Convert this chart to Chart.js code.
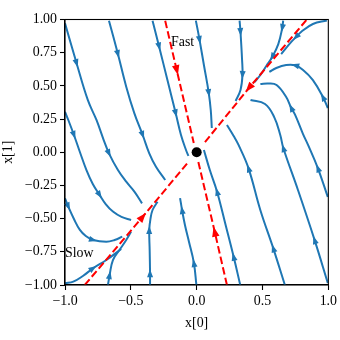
<!DOCTYPE html>
<html lang="en">
<head>
<meta charset="UTF-8">
<title>Phase portrait</title>
<script src="https://cdn.jsdelivr.net/npm/chart.js@4.4.1/dist/chart.umd.min.js"></script>
<style>
  html, body { margin: 0; padding: 0; background: #fff; }
</style>
</head>
<body>
<canvas id="phase" width="340" height="340"></canvas>
<script>
// streamlines, each listed in flow direction
const lineA = [[-1, 0.971], [-0.912, 0.670], [-0.827, 0.394], [-0.761, 0.243], [-0.706, 0.092], [-0.666, -0.008], [-0.598, -0.134], [-0.535, -0.222], [-0.473, -0.297], [-0.415, -0.385]];
const lineB = [[-0.666, 0.991], [-0.598, 0.740], [-0.535, 0.494], [-0.473, 0.293], [-0.410, 0.130], [-0.360, -0.008], [-0.309, -0.109], [-0.239, -0.209]];
const lineC = [[-0.335, 0.991], [-0.285, 0.795], [-0.222, 0.544], [-0.159, 0.293], [-0.119, 0.130], [-0.081, 0.017], [-0.062, -0.028]];
const lineD = [[-1, 0.305], [-0.975, 0.243], [-0.932, 0.130], [-0.887, 0.002], [-0.837, -0.134], [-0.789, -0.239], [-0.737, -0.322], [-0.691, -0.390], [-0.636, -0.447], [-0.571, -0.487], [-0.498, -0.510]];
const lineE = [[-1, -0.347], [-0.975, -0.410], [-0.932, -0.503], [-0.887, -0.585], [-0.842, -0.631], [-0.787, -0.661], [-0.686, -0.674], [-0.623, -0.661], [-0.565, -0.636]];
const lineF = [[-1, -0.987], [-0.937, -0.975], [-0.864, -0.932], [-0.787, -0.874], [-0.686, -0.812], [-0.573, -0.729]];
const lineG = [[-0.674, -1], [-0.661, -0.925], [-0.636, -0.812], [-0.586, -0.736], [-0.535, -0.661], [-0.498, -0.599]];
const lineH = [[-0.354, -1], [-0.354, -0.912], [-0.357, -0.736], [-0.360, -0.586], [-0.352, -0.510], [-0.335, -0.435], [-0.297, -0.373]];
const lineI = [[-0.002, -1], [-0.021, -0.834], [-0.058, -0.676], [-0.089, -0.548], [-0.111, -0.435], [-0.126, -0.345]];
const lineK = [[0.331, -1], [0.281, -0.787], [0.220, -0.548], [0.155, -0.297], [0.100, -0.134], [0.055, 0.017]];
const lineL = [[0.670, -1], [0.582, -0.724], [0.484, -0.437], [0.394, -0.121], [0.318, 0.055], [0.281, 0.122], [0.230, 0.205]];
const lineM = [[0.996, -0.985], [0.896, -0.662], [0.770, -0.286], [0.658, 0.032], [0.635, 0.130], [0.589, 0.265], [0.519, 0.363], [0.409, 0.394]];
const lineN = [[0.996, -0.337], [0.921, -0.121], [0.846, 0.055], [0.808, 0.137], [0.748, 0.281], [0.718, 0.335], [0.680, 0.416], [0.607, 0.507], [0.544, 0.518], [0.484, 0.514]];
const lineS = [[0.996, 0.333], [0.959, 0.416], [0.883, 0.544], [0.808, 0.620], [0.748, 0.655], [0.680, 0.657], [0.605, 0.635], [0.552, 0.605]];
const lineR = [[0.989, 0.992], [0.883, 0.966], [0.793, 0.906], [0.755, 0.868], [0.717, 0.830], [0.642, 0.740]];
const lineQ = [[0.657, 0.992], [0.650, 0.936], [0.620, 0.815], [0.574, 0.717], [0.529, 0.650], [0.484, 0.582], [0.439, 0.529]];
const lineP = [[0.326, 0.992], [0.333, 0.906], [0.345, 0.695], [0.348, 0.582], [0.333, 0.469], [0.296, 0.386]];
const lineO = [[-0.006, 0.992], [0.022, 0.846], [0.055, 0.657], [0.092, 0.446], [0.107, 0.318], [0.115, 0.183]];

const streamlines = [lineA, lineB, lineC, lineD, lineE, lineF, lineG, lineH, lineI, lineK, lineL, lineM, lineN, lineS, lineR, lineQ, lineP, lineO];
// index of the point on each streamline that carries an arrow head
const streamArrows = [[1, 5], [1, 4], [1, 3], [2, 6], [1, 5], [3], [1], [1, 3], [1, 4], [1, 3], [1, 3], [1, 3], [1, 5], [1, 4], [3], [1, 3], [1, 3], [1, 3]];

// eigenvector directions (red dashed), drawn from the edge toward the fixed point
const fastUpper = [[-0.239, 0.99], [-0.151, 0.618], [-0.022, 0.07]];
const fastLower = [[0.230, -1], [0.137, -0.598], [0.012, -0.07]];
const slowUpper = [[0.833, 0.996], [0.397, 0.484], [0.058, 0.07]];
const slowLower = [[-0.85, -1], [-0.41, -0.486], [-0.06, -0.07]];
const eigenLines = [fastUpper, fastLower, slowUpper, slowLower];

const fixedPoint = [0, 0];

const noteText = ['Fast', 'Slow'];
const noteX = [-0.195, -1.0];
const noteY = [0.83, -0.76];

const xTicks = [-1, -0.5, 0, 0.5, 1];
const yTicks = [-1, -0.75, -0.5, -0.25, 0, 0.25, 0.5, 0.75, 1];

const FONT = { family: "'Liberation Serif', 'Times New Roman', serif", size: 13.9 };

function fmt(v, d) {
  const s = Math.abs(v).toFixed(d);
  return v < 0 ? '\u2212' + s : s;
}

const toXY = pts => pts.map(([x, y]) => ({ x, y }));

const datasets = [];
streamlines.forEach((line, i) => {
  datasets.push({
    data: toXY(line), showLine: true, borderColor: '#1f77b4', borderWidth: 2,
    pointRadius: 0, tension: 0.4, order: 3,
    arrows: streamArrows[i], arrowLen: 8, arrowWid: 6
  });
});
eigenLines.forEach(line => {
  datasets.push({
    data: toXY(line), showLine: true, borderColor: '#ff0000', borderWidth: 2,
    borderDash: [7.5, 3.3], pointRadius: 0, tension: 0, order: 2,
    arrows: [1], arrowLen: 10, arrowWid: 7.5
  });
});
datasets.push({
  data: [{ x: fixedPoint[0], y: fixedPoint[1] }], pointRadius: 5, pointBackgroundColor: '#000',
  pointBorderWidth: 0, order: 1
});

// arrow heads, drawn right after their own line
const arrowPlugin = {
  id: 'arrows',
  afterDatasetDraw(chart, args) {
    const ds = chart.data.datasets[args.index];
    if (!ds.arrows) return;
    const pts = args.meta.data;
    const ctx = chart.ctx;
    ctx.save();
    ctx.fillStyle = ds.borderColor;
    ds.arrows.forEach(i => {
      const p = pts[i];
      const a = pts[Math.max(i - 1, 0)];
      const b = pts[Math.min(i + 1, pts.length - 1)];
      const ang = Math.atan2(b.y - a.y, b.x - a.x);
      const L = ds.arrowLen, W = ds.arrowWid;
      ctx.translate(p.x, p.y);
      ctx.rotate(ang);
      ctx.beginPath();
      ctx.moveTo(L / 2, 0);
      ctx.lineTo(-L / 2, W / 2);
      ctx.lineTo(-L / 2, -W / 2);
      ctx.closePath();
      ctx.fill();
      ctx.setTransform(1, 0, 0, 1, 0, 0);
    });
    ctx.restore();
  }
};

// full axes frame and the two text notes
const framePlugin = {
  id: 'frame',
  afterDraw(chart) {
    const { ctx, chartArea: ca, scales } = chart;
    ctx.save();
    ctx.strokeStyle = '#000';
    ctx.lineWidth = 1.1;
    ctx.strokeRect(ca.left, ca.top, ca.right - ca.left, ca.bottom - ca.top);
    ctx.fillStyle = '#000';
    ctx.font = FONT.size + 'px ' + FONT.family;
    ctx.textAlign = 'left';
    ctx.textBaseline = 'middle';
    noteText.forEach((t, i) => {
      ctx.fillText(t, scales.x.getPixelForValue(noteX[i]), scales.y.getPixelForValue(noteY[i]));
    });
    ctx.restore();
  }
};

new Chart(document.getElementById('phase'), {
  type: 'scatter',
  data: { datasets },
  options: {
    responsive: false,
    animation: false,
    devicePixelRatio: 1,
    layout: { padding: { left: 0, right: 9.5, top: 19.5, bottom: 0 } },
    plugins: { legend: { display: false }, tooltip: { enabled: false } },
    scales: {
      x: {
        type: 'linear', min: -1, max: 1,
        afterBuildTicks: s => { s.ticks = xTicks.map(v => ({ value: v })); },
        afterFit: s => { s.height = 55; },
        ticks: { color: '#000', font: FONT, padding: 3, maxRotation: 0, callback: v => fmt(v, 1) },
        grid: { drawOnChartArea: false, drawTicks: true, tickLength: 5, tickColor: '#000', tickWidth: 1.1 },
        border: { display: true, color: '#000', width: 1.1 },
        title: { display: true, text: 'x[0]', color: '#000', font: FONT, padding: { top: 2, bottom: 8 } }
      },
      y: {
        type: 'linear', min: -1, max: 1,
        afterBuildTicks: s => { s.ticks = yTicks.map(v => ({ value: v })); },
        afterFit: s => { s.width = 65; },
        ticks: { color: '#000', font: FONT, padding: 3, callback: v => fmt(v, 2) },
        grid: { drawOnChartArea: false, drawTicks: true, tickLength: 5, tickColor: '#000', tickWidth: 1.1 },
        border: { display: true, color: '#000', width: 1.1 },
        title: { display: true, text: 'x[1]', color: '#000', font: FONT, padding: { top: 0, bottom: 2 } }
      }
    }
  },
  plugins: [arrowPlugin, framePlugin]
});
</script>
</body>
</html>
